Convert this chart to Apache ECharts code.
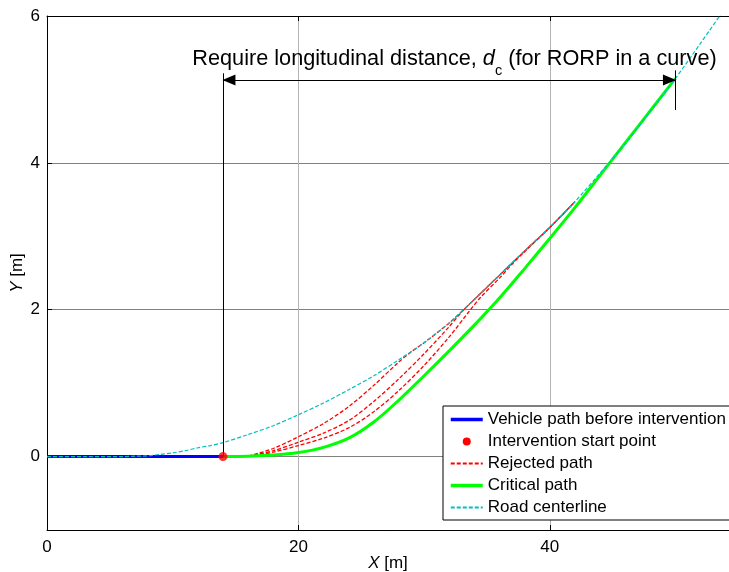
<!DOCTYPE html>
<html>
<head>
<meta charset="utf-8">
<style>
  html, body { margin: 0; padding: 0; background: #fff; }
  #main { width: 729px; height: 572px; }
</style>
</head>
<body>
<div id="main"></div>
<script src="https://cdn.jsdelivr.net/npm/echarts@6.0.0/dist/echarts.min.js"></script>
<script>
// path driven before the intervention starts
const vehiclePath = [[0, 0], [14, 0]]
const startPoint = [[14, 0]]

// candidate paths that were rejected
const rejectedPath1 = [[16, 0.005], [18, 0.11], [20, 0.27], [22, 0.45], [24, 0.68], [26, 0.97], [28, 1.29], [29, 1.43], [30, 1.55], [32, 1.82], [34, 2.14], [36, 2.47], [38, 2.8], [40, 3.12], [42, 3.47]]
const rejectedPath2 = [[16, 0.005], [18, 0.08], [20, 0.195], [22, 0.32], [24, 0.49], [26, 0.75], [28, 1.06], [30, 1.4], [32, 1.77], [33, 1.97], [34, 2.14], [36, 2.47], [38, 2.8], [40, 3.12], [42, 3.47]]
const rejectedPath3 = [[16, 0.005], [18, 0.06], [20, 0.15], [22, 0.25], [24, 0.39], [26, 0.61], [28, 0.9], [30, 1.24], [32, 1.63], [33.6, 1.98], [34.5, 2.17], [36, 2.43], [37, 2.62], [38, 2.79], [40, 3.12], [42, 3.47]]

const criticalPath = [[14, 0], [16, 0.005], [18, 0.02], [20, 0.055], [22, 0.125], [24, 0.25], [26, 0.47], [28, 0.77], [30, 1.1], [32, 1.44], [34, 1.79], [36, 2.16], [38, 2.56], [40, 2.97], [42, 3.39], [44, 3.83], [46, 4.27], [48, 4.71], [50, 5.15]]

const roadCenterline = [[0, 0], [3, 0], [6, 0], [7, 0.005], [8, 0.01], [9, 0.03], [10, 0.05], [11, 0.08], [12, 0.12], [13, 0.15], [14, 0.19], [16, 0.3], [18, 0.42], [20, 0.57], [22, 0.73], [24, 0.91], [26, 1.1], [28, 1.32], [30, 1.55], [32, 1.82], [34, 2.14], [36, 2.47], [38, 2.8], [40, 3.12], [42, 3.47], [44, 3.86], [46, 4.26], [48, 4.7], [50, 5.15], [52, 5.63], [54, 6.12], [55, 6.37]]

const xTicks = [0, 20, 40]
const yTicks = [0, 2, 4, 6]

// d_c annotation
const dcStart = 14
const dcEnd = 50
const dcLevel = 5.13

const font = "'Liberation Sans', Arial, sans-serif"
let myChart = echarts.init(document.getElementById('main'))

const dashed = [4, 2]
function rejected(data) {
  return {
    name: 'Rejected path',
    type: 'line',
    data: data,
    symbol: 'none',
    smooth: 0.3,
    lineStyle: { color: '#ff0000', width: 1.3, type: dashed },
    itemStyle: { color: '#ff0000' },
  }
}

myChart.setOption({
  animation: false,
  textStyle: { fontFamily: font },
  grid: { left: 47, right: 0, top: 16, bottom: 42, containLabel: false, outerBoundsMode: 'none' },
  xAxis: [
    {
      type: 'value',
      min: 0,
      max: 54.26,
      name: '{i|X} [m]',
      nameLocation: 'middle',
      nameGap: 25,
      nameMoveOverlap: false,
      nameTextStyle: { fontSize: 17, color: '#000', rich: { i: { fontSize: 17, fontStyle: 'italic', color: '#000' } } },
      axisLine: { onZero: false, lineStyle: { color: '#000' } },
      axisTick: { inside: true, length: 5, customValues: xTicks, lineStyle: { color: '#000' } },
      axisLabel: { customValues: xTicks, fontSize: 17, color: '#000', margin: 9 },
      splitLine: { show: true, lineStyle: { color: '#b4b4b4' } },
    },
    {
      type: 'value',
      position: 'top',
      min: 0,
      max: 54.26,
      axisLine: { onZero: false, lineStyle: { color: '#000' } },
      axisTick: { inside: true, length: 5, customValues: xTicks, lineStyle: { color: '#000' } },
      axisLabel: { show: false },
      splitLine: { show: false },
    },
  ],
  yAxis: {
    type: 'value',
    min: -1,
    max: 6,
    name: '{i|Y} [m]',
    nameLocation: 'middle',
    nameGap: 21,
    nameMoveOverlap: false,
    nameTextStyle: { fontSize: 17, color: '#000', rich: { i: { fontSize: 17, fontStyle: 'italic', color: '#000' } } },
    axisLine: { show: true, onZero: false, lineStyle: { color: '#000' } },
    axisTick: { show: true, inside: true, length: 5, customValues: yTicks, lineStyle: { color: '#000' } },
    axisLabel: { customValues: yTicks, fontSize: 17, color: '#000', margin: 7 },
    splitLine: { show: true, lineStyle: { color: '#808080' } },
  },
  legend: {
    orient: 'vertical',
    left: 443,
    top: 406,
    padding: [5, 10, 4, 6],
    itemWidth: 32,
    itemHeight: 12,
    itemGap: 5,
    backgroundColor: '#fff',
    borderColor: '#000',
    borderWidth: 1,
    borderRadius: 0,
    selectedMode: false,
    itemStyle: { opacity: 0 },
    textStyle: { fontSize: 17, lineHeight: 17, color: '#000' },
    data: [
      { name: 'Vehicle path before intervention', lineStyle: { width: 3.5 } },
      {
        name: 'Intervention start point',
        icon: 'path://M0,0M32,12M20,6A4,4,0,1,1,12,6A4,4,0,1,1,20,6Z',
        itemStyle: { opacity: 1 },
      },
      'Rejected path',
      { name: 'Critical path', lineStyle: { width: 3.5 } },
      'Road centerline',
    ],
  },
  series: [
    {
      name: 'Vehicle path before intervention',
      type: 'line',
      data: vehiclePath,
      symbol: 'none',
      lineStyle: { color: '#0000ff', width: 3 },
      itemStyle: { color: '#0000ff' },
      markLine: {
        silent: true,
        symbol: 'none',
        label: { show: false },
        lineStyle: { color: '#000', width: 1, type: 'solid' },
        data: [
          [
            { coord: [dcStart, dcLevel], symbol: 'triangle', symbolSize: [11, 13], symbolOffset: [0, 6] },
            { coord: [dcEnd, dcLevel], symbol: 'triangle', symbolSize: [11, 13], symbolOffset: [0, 6] },
          ],
          [{ coord: [dcStart, 0] }, { coord: [dcStart, 5.22] }],
          [{ coord: [dcEnd, 4.72] }, { coord: [dcEnd, 5.26] }],
        ],
      },
      markPoint: {
        silent: true,
        symbol: 'circle',
        symbolSize: 1,
        itemStyle: { color: 'transparent' },
        label: {
          show: true,
          position: 'inside',
          color: '#000',
          formatter: '{a|Require longitudinal distance, }{i|d}{s|c}{a| (for RORP in a curve)}',
          rich: {
            a: { fontSize: 21.7, lineHeight: 26, color: '#000' },
            i: { fontSize: 21.7, lineHeight: 26, fontStyle: 'italic', color: '#000' },
            s: { fontSize: 14.5, lineHeight: 14, padding: [23, 0, 0, 0], color: '#000' },
          },
        },
        data: [{ coord: [32.42, 5.41] }],
      },
    },
    rejected(rejectedPath1),
    rejected(rejectedPath2),
    rejected(rejectedPath3),
    {
      name: 'Critical path',
      type: 'line',
      data: criticalPath,
      symbol: 'none',
      smooth: 0.3,
      lineStyle: { color: '#00ff00', width: 3 },
      itemStyle: { color: '#00ff00' },
    },
    {
      name: 'Road centerline',
      type: 'line',
      data: roadCenterline,
      symbol: 'none',
      smooth: 0.3,
      lineStyle: { color: '#00bfbf', width: 1.2, type: dashed },
      itemStyle: { color: '#00bfbf' },
    },
    {
      name: 'Intervention start point',
      type: 'scatter',
      data: startPoint,
      symbolSize: 9,
      itemStyle: { color: '#ff0000' },
      z: 5,
    },
  ],
})
</script>
</body>
</html>
